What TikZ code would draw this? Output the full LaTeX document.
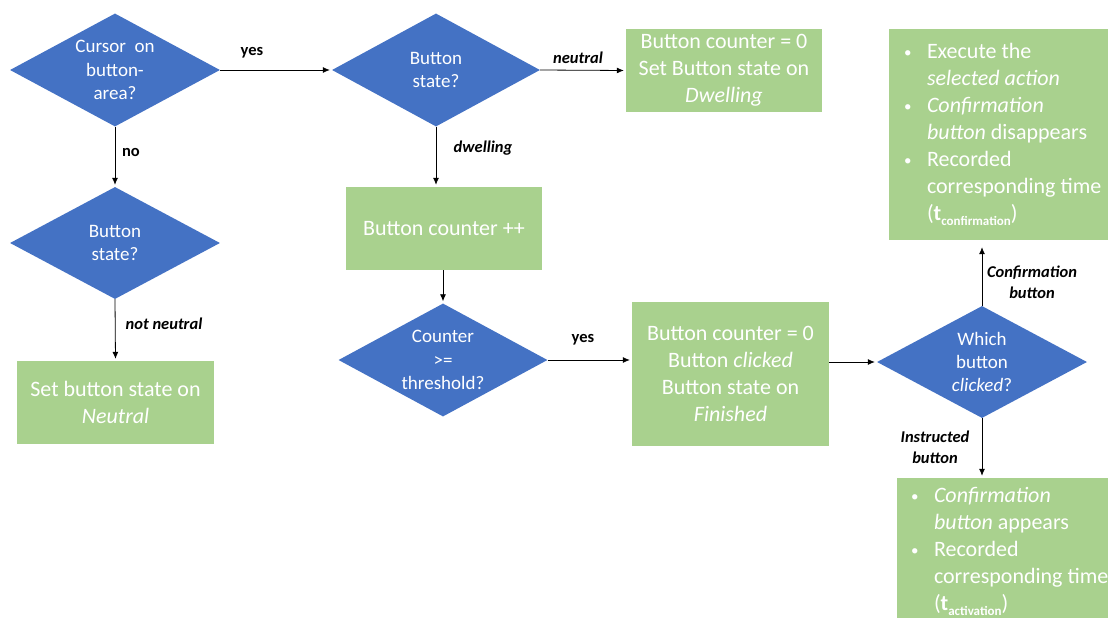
\documentclass[tikz,border=0pt]{standalone}
\usepackage{fontspec}
\setmainfont{Carlito}
\usetikzlibrary{shapes.geometric,arrows.meta}
\definecolor{dblue}{HTML}{4472C4}
\definecolor{bgreen}{HTML}{A9D18E}
\newcommand\bulx{\makebox[23pt][l]{\raisebox{1pt}{\fontsize{15}{15}\selectfont\textbullet}}}
\newcommand\indx{\hspace*{23pt}}
\newcommand\subx[1]{(\textbf{t}\raisebox{-4.5pt}{\fontsize{13}{13}\selectfont\bfseries #1})}
\begin{document}
\begin{tikzpicture}[x=1pt,y=-1pt,
  dia/.style={diamond, fill=dblue, inner sep=0pt, minimum width=210pt, minimum height=113pt},
  dtext/.style={text=white, font=\fontsize{19}{23.3}\selectfont, align=center, inner sep=0pt},
  box/.style={fill=bgreen, text=white, font=\fontsize{22}{27}\selectfont, align=center, inner sep=0pt},
  lbl/.style={font=\fontsize{16.5}{21}\selectfont\bfseries\itshape, align=center, inner sep=0pt},
  lblu/.style={font=\fontsize{16.5}{21}\selectfont\bfseries, inner sep=0pt},
  arr/.style={-{Latex[length=7pt,width=6pt]}, line width=0.8pt, shorten >=2pt}]
\useasboundingbox (0,0) rectangle (1108,618);

% decisions
\node[dia, label={[dtext]center:{Cursor\ \ on\\button-\\area?}}] (d1) at (115,70) {};
\node[dia, minimum width=208pt, label={[dtext]center:{Button\\state?}}] (d2) at (436,70) {};
\node[dia, minimum height=112pt, label={[dtext]center:{Button\\state?}}] (d3) at (115,243) {};
\node[dia, minimum width=209pt, label={[dtext]center:{Counter\\>=\\threshold?}}] (d4) at (443,360) {};
\node[dia, minimum height=112pt, label={[dtext]center:{Which\\button\\\textit{clicked}?}}] (d5) at (982,362) {};

% boxes
\node[box, minimum width=196pt, minimum height=83pt] (b1) at (724,70.5)
  {Button counter = 0\\Set Button state on\\\textit{Dwelling}};
\node[box, minimum width=197pt, minimum height=83pt] (b2) at (115.5,402.5)
  {Set button state on\\\textit{Neutral}};
\node[box, minimum width=196pt, minimum height=83pt] (b3) at (444,228.5)
  {Button counter ++};
\node[box, minimum width=197pt, minimum height=144pt] (b4) at (730.5,374)
  {Button counter = 0\\Button \textit{clicked}\\Button state on\\\textit{Finished}};
\node[box, minimum width=219pt, minimum height=211pt] (b5) at (998.5,134.5)
  {\makebox[219pt][l]{\hspace{15pt}\parbox{204pt}{\raggedright
   \bulx Execute the\\
   \indx\textit{selected action}\\
   \bulx\textit{Confirmation}\\
   \indx\textit{button} disappears\\
   \bulx Recorded\\
   \indx corresponding time\\
   \indx\subx{confirmation}}}};
\node[box, minimum width=219pt, minimum height=147pt] (b6) at (1006.5,551.5)
  {\makebox[219pt][l]{\hspace{14pt}\parbox{205pt}{\raggedright
   \bulx\textit{Confirmation}\\
   \indx\textit{button} appears\\
   \bulx Recorded\\
   \indx corresponding time\\
   \indx\subx{activation}}}};

% connectors
\draw[arr] (d1.east) -- (d2.west);
\draw[arr] (d2.east) -- (b1.west);
\draw[arr] (d1.south) -- (d3.north);
\draw[arr] (d3.south) -- (b2.north);
\draw[arr] (d2.south) -- (d2.south |- b3.north);
\draw[arr] (b3.south -| d4.north) -- (d4.north);
\draw[arr] (d4.east) -- (d4.east -| b4.west);
\draw[arr] (d5.west -| b4.east) -- (d5.west);
\draw[arr, shorten >=7pt] (d5.north) -- (d5.north |- b5.south);
\draw[arr] (d5.south) -- (d5.south |- b6.north);

% labels
\node[lblu] (l1) at (252,53) {yes};
\node[lblu] (l2) at (131,152) {no};
\node[lbl] (l3) at (578,58) {neutral};
\node[lbl] (l4) at (483,148) {dwelling};
\node[lbl] (l5) at (164,324) {not neutral};
\node[lblu] (l6) at (583,340) {yes};
\node[lbl] (l7) at (1032,282) {Confirmation\\button};
\node[lbl] (l8) at (935,447) {Instructed\\button};
\end{tikzpicture}
\end{document}
